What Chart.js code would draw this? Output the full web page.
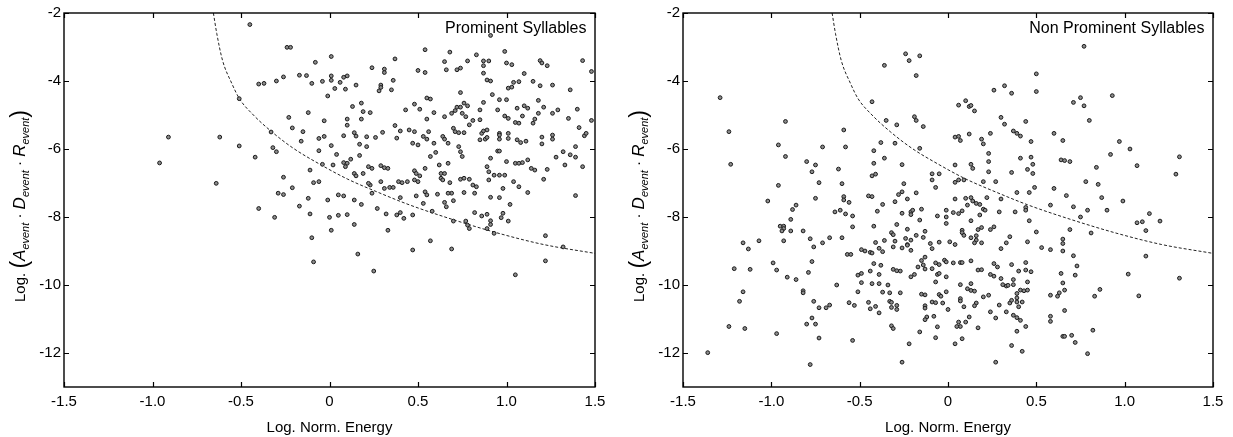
<!DOCTYPE html>
<html>
<head>
<meta charset="utf-8">
<script src="https://cdn.jsdelivr.net/npm/chart.js@4.4.1/dist/chart.umd.min.js"></script>
<style>
  html, body { margin: 0; padding: 0; background: #fff; }
  #wrap { position: relative; width: 1233px; height: 437px; overflow: hidden; }
  canvas { position: absolute; top: 0; }
  #c1 { left: 0; }
  #c2 { left: 617px; }
</style>
</head>
<body>
<div id="wrap">
  <canvas id="c1" width="616" height="437"></canvas>
  <canvas id="c2" width="616" height="437"></canvas>
</div>
<script>
// Axis ticks
const xTicks = [-1.5, -1.0, -0.5, 0, 0.5, 1.0, 1.5];
const yTicks = [-12, -10, -8, -6, -4, -2];

// Panel captions
const panelLabels = ['Prominent Syllables', 'Non Prominent Syllables'];

// Dashed decision boundary (log energy, log A·D·R)
const boundaryX = [-0.656, -0.637, -0.604, -0.553, -0.509, -0.43, -0.327, -0.204, -0.054, 0.1, 0.268, 0.45, 0.7, 0.963, 1.21, 1.5];
const boundaryY = [-2.0, -2.6, -3.4, -4.06, -4.52, -5.0, -5.49, -5.98, -6.45, -6.88, -7.26, -7.64, -8.08, -8.49, -8.81, -9.07];

// Prominent syllables: [log norm. energy, log(A·D·R)]
const prominentXY = [
  [-0.45,-2.34],[-0.24,-3.01],[-0.22,-3.01],[-0.08,-3.45],[-0.40,-4.09],[-0.37,-4.07],[-0.30,-4.00],[-0.26,-3.88],
  [-0.17,-3.83],[-0.13,-3.84],[-0.10,-4.07],[-0.51,-4.52],[-0.23,-5.07],[-0.12,-4.93],[-0.91,-5.65],[-0.62,-5.65],
  [-0.33,-5.50],[-0.21,-5.38],[-0.15,-5.49],[-0.16,-5.77],[-0.06,-5.69],[-0.96,-6.41],[-0.51,-5.91],[-0.32,-5.96],
  [-0.30,-6.08],[-0.06,-6.05],[-0.42,-6.24],[-0.64,-7.01],[-0.26,-6.83],[-0.11,-6.62],[-0.09,-6.99],[-0.06,-6.96],
  [-0.21,-7.14],[-0.29,-7.30],[-0.26,-7.34],[-0.09,-9.32],[-0.40,-7.75],[-0.31,-8.01],[-0.12,-7.45],[-0.17,-7.68],
  [-0.11,-7.91],[-0.10,-8.61],[0.00,-8.01],
  [0.91,-2.66],[0.54,-3.08],[0.68,-3.15],[0.83,-3.23],[0.99,-3.13],[0.01,-3.28],[0.37,-3.35],[0.65,-3.43],[0.78,-3.41],
  [0.87,-3.41],[0.90,-3.41],[1.00,-3.47],[1.03,-3.52],[1.19,-3.40],[1.20,-3.47],[1.23,-3.55],[1.43,-3.40],[0.24,-3.61],
  [0.31,-3.65],[0.31,-3.75],[0.50,-3.69],[0.54,-3.75],[0.66,-3.67],[0.72,-3.67],[0.74,-3.62],[0.87,-3.55],[0.87,-3.77],
  [0.89,-3.97],[0.91,-4.00],[-0.04,-4.01],[0.01,-3.98],[0.01,-3.85],[0.06,-4.04],[0.08,-3.89],[0.10,-3.85],[0.03,-4.22],
  [0.09,-4.24],[0.15,-4.12],[0.29,-4.12],[0.29,-4.19],[0.28,-4.29],[0.35,-4.26],[0.36,-3.98],[0.74,-4.34],[0.92,-4.40],
  [1.01,-4.21],[1.03,-4.18],[1.04,-4.04],[1.07,-4.02],[1.10,-3.78],[1.15,-4.01],[1.19,-4.14],[1.26,-4.12],[1.36,-4.26],
  [1.48,-3.72],[-0.01,-4.44],[0.13,-4.75],[0.18,-4.65],[0.19,-4.90],[0.23,-4.93],[0.43,-4.85],[0.48,-4.68],[0.51,-4.83],
  [0.55,-4.50],[0.57,-4.53],[0.55,-5.12],[0.59,-4.93],[0.65,-5.05],[0.69,-4.95],[0.71,-4.87],[0.72,-4.77],[0.76,-4.65],
  [0.78,-4.73],[0.74,-4.77],[0.75,-4.95],[0.77,-5.05],[0.81,-5.16],[0.85,-5.14],[0.85,-4.85],[0.87,-4.63],[0.95,-4.85],
  [0.96,-4.55],[1.00,-4.55],[0.99,-5.03],[1.01,-5.10],[1.05,-5.22],[1.07,-5.24],[1.06,-4.80],[1.09,-5.03],[1.10,-4.73],
  [1.12,-4.80],[1.16,-5.12],[1.15,-5.24],[1.18,-4.95],[1.18,-4.57],[1.21,-4.77],[1.26,-4.95],[1.29,-4.85],[1.35,-5.10],
  [1.40,-4.83],[1.48,-5.16],[1.41,-5.37],[1.44,-5.61],[1.45,-5.54],[-0.03,-5.17],[0.10,-5.12],[0.10,-5.30],[0.18,-5.12],
  [0.08,-5.61],[0.14,-5.52],[0.15,-5.62],[0.17,-5.86],[0.21,-5.64],[0.26,-5.66],[0.30,-5.51],[0.37,-5.31],[0.38,-5.68],
  [0.40,-5.47],[-0.03,-5.63],[0.45,-5.44],[0.48,-5.49],[0.47,-5.83],[0.50,-5.88],[0.53,-5.63],[0.56,-5.49],[0.55,-5.71],
  [0.59,-5.83],[0.64,-5.63],[0.65,-5.71],[0.67,-5.83],[0.70,-5.39],[0.71,-5.49],[0.73,-5.52],[0.76,-5.52],[0.73,-5.93],
  [0.74,-6.08],[0.75,-6.22],[0.79,-5.29],[0.86,-5.54],[0.87,-5.47],[0.89,-5.44],[0.85,-5.73],[0.88,-5.71],[0.89,-5.66],
  [0.96,-5.54],[0.96,-5.59],[0.96,-5.71],[1.01,-5.54],[1.01,-5.69],[0.95,-6.06],[0.96,-6.06],[0.91,-6.27],[1.06,-5.73],
  [1.08,-5.81],[1.11,-5.77],[1.20,-5.65],[1.20,-5.85],[1.26,-5.59],[1.26,-5.71],[1.32,-6.08],[1.36,-6.17],[1.39,-6.24],
  [1.39,-5.93],[1.43,-6.52],[1.28,-6.24],[1.33,-6.47],[0.21,-5.93],[0.01,-5.90],[0.04,-6.16],[0.08,-6.40],[0.12,-6.30],
  [0.17,-6.19],[0.22,-6.52],[0.24,-6.57],[0.29,-6.49],[0.31,-6.55],[0.33,-6.57],[0.10,-6.42],[0.09,-6.52],[0.02,-6.47],
  [-0.04,-6.45],[0.14,-6.72],[0.15,-6.79],[0.19,-6.72],[0.23,-7.06],[0.24,-7.30],[0.22,-7.01],[0.29,-6.96],[0.31,-7.16],
  [0.34,-7.13],[0.36,-7.13],[0.39,-6.96],[0.41,-6.99],[0.44,-6.96],[0.48,-6.64],[0.49,-6.72],[0.51,-6.79],[0.48,-6.91],
  [0.50,-6.96],[0.54,-6.57],[0.54,-7.26],[0.57,-6.22],[0.60,-6.10],[0.62,-6.47],[0.63,-6.72],[0.65,-6.72],[0.67,-6.42],
  [0.63,-6.86],[0.64,-6.91],[0.68,-6.99],[0.69,-7.30],[0.74,-6.89],[0.76,-6.86],[0.79,-6.89],[0.81,-7.06],[0.83,-7.11],
  [0.89,-6.52],[0.90,-6.67],[0.90,-6.91],[0.93,-6.77],[0.96,-6.77],[0.99,-6.77],[1.04,-6.96],[1.07,-7.11],[1.00,-6.37],
  [1.05,-6.42],[1.07,-6.42],[1.09,-6.40],[1.12,-6.32],[1.14,-6.57],[1.16,-6.62],[1.21,-6.89],[1.23,-6.60],[1.12,-7.28],
  [0.61,-7.33],[0.67,-7.30],[0.76,-7.28],[0.82,-7.30],[0.98,-7.16],
  [-0.01,-7.50],[0.05,-7.35],[0.08,-7.38],[0.14,-7.50],[0.18,-7.63],[0.27,-7.75],[0.40,-7.43],[0.49,-7.38],[0.55,-7.35],
  [0.53,-7.60],[0.65,-7.57],[0.66,-7.70],[0.70,-7.52],[0.91,-7.42],[0.96,-7.43],[1.02,-7.63],[1.39,-7.37],[0.05,-7.95],
  [0.10,-7.93],[0.01,-8.39],[0.14,-8.22],[0.32,-7.91],[0.38,-7.94],[0.40,-7.87],[0.42,-8.04],[0.47,-7.94],[0.33,-8.39],
  [0.58,-7.83],[0.57,-8.70],[0.70,-8.12],[0.77,-8.12],[0.78,-8.24],[0.79,-8.34],[0.82,-7.87],[0.86,-7.97],[0.89,-7.92],
  [0.91,-8.11],[0.91,-8.22],[0.89,-8.34],[0.93,-8.48],[0.97,-8.02],[0.98,-7.89],[1.01,-8.12],[1.22,-8.55],
  [0.16,-9.09],[0.25,-9.59],[0.47,-8.97],[0.69,-8.94],[1.05,-9.70],[1.22,-9.29],[1.32,-8.88]
];

// Non prominent syllables: [log norm. energy, log(A·D·R)]
const nonProminentXY = [
  [-0.24,-3.20],[-0.22,-3.40],[-0.16,-3.26],[-0.36,-3.54],[-0.18,-3.84],[-1.29,-4.49],[-0.43,-4.61],[-0.92,-5.19],
  [-0.35,-5.16],[-0.29,-5.29],[-0.19,-5.05],[-0.18,-5.16],[-0.14,-5.34],[-1.24,-5.49],[-0.59,-5.44],[-0.96,-5.88],
  [-0.71,-5.94],[-0.58,-5.94],[-0.38,-5.81],[-0.30,-5.83],[-0.16,-5.98],[-1.23,-6.45],[-0.92,-6.22],[-0.80,-6.37],
  [-0.75,-6.47],[-0.77,-6.67],[-0.62,-6.59],[-0.42,-6.05],[-0.42,-6.42],[-0.36,-6.27],[-0.26,-6.46],[-0.73,-6.99],
  [-0.96,-7.07],[-0.60,-7.02],[-0.43,-6.79],[-0.41,-6.74],[-0.25,-7.02],[-0.26,-7.26],[-0.28,-7.34],[-0.18,-7.29],
  [-1.02,-7.53],[-0.75,-7.45],[-0.59,-7.40],[-0.59,-7.50],[-0.56,-7.57],[-0.45,-7.38],[-0.43,-7.40],[-0.37,-7.63],
  [-0.30,-7.55],[-0.23,-7.47],[-0.88,-7.78],[-0.86,-7.65],[-0.64,-7.85],[-0.61,-7.80],[-0.58,-7.91],[-0.54,-7.97],
  [-0.40,-7.83],[-0.26,-7.89],[-0.21,-7.85],[-0.21,-7.93],[-0.20,-7.80],[-0.15,-7.77],[-0.06,-7.97],[-0.89,-8.07],
  [-0.16,-8.09],[-0.95,-8.27],[-0.93,-8.27],[-0.93,-8.34],[-0.94,-8.41],[-0.89,-8.41],[-0.82,-8.41],[-0.54,-8.29],
  [-0.42,-8.27],[-0.29,-8.22],[-0.23,-8.36],[-0.32,-8.46],[-0.31,-8.52],[-0.18,-8.54],[-0.13,-8.42],[-0.14,-8.60],
  [-1.16,-8.76],[-1.07,-8.70],[-0.93,-8.70],[-0.78,-8.64],[-0.67,-8.61],[-0.60,-8.61],[-0.71,-8.76],[-0.41,-8.75],
  [-0.36,-8.69],[-0.30,-8.71],[-0.24,-8.63],[-0.21,-8.68],[-0.10,-8.78],[-0.05,-8.74],[-0.23,-8.81],
  [0.04,-7.47],[0.10,-7.45],[0.13,-7.43],[0.14,-7.53],[0.22,-7.43],[0.30,-7.47],[0.67,-7.37],[0.87,-7.43],[0.99,-7.53],
  [0.16,-7.60],[0.18,-7.63],[0.20,-7.77],[0.21,-7.80],[0.11,-7.65],[-0.01,-7.80],[0.03,-7.87],[0.06,-7.90],[0.08,-7.82],
  [-0.01,-8.00],[-0.01,-8.19],[0.13,-8.11],[0.18,-7.94],[0.29,-7.85],[0.38,-7.85],[0.44,-7.72],[0.44,-7.80],[0.46,-8.11],
  [0.58,-7.65],[0.71,-7.70],[0.79,-7.80],[0.90,-7.80],[0.75,-8.00],[0.69,-8.37],[0.81,-8.47],[0.50,-8.44],[1.07,-8.17],
  [1.10,-8.14],[1.20,-8.12],[1.14,-7.90],[1.12,-8.40],[0.08,-8.39],[0.08,-8.46],[0.09,-8.54],[0.17,-8.37],[0.19,-8.31],
  [0.24,-8.37],[0.26,-8.29],[0.13,-8.61],[0.16,-8.55],[0.16,-8.68],[0.15,-8.76],[0.19,-8.76],[0.35,-8.58],[0.33,-8.76],
  [0.45,-8.73],[0.65,-8.65],[0.65,-8.78],[0.01,-8.73],[0.04,-8.81],
  [0.77,-2.98],[0.50,-3.79],[0.26,-4.27],[0.32,-4.14],[0.36,-4.36],[0.50,-4.31],[0.71,-4.63],[0.75,-4.49],[0.77,-4.73],
  [0.93,-4.43],[0.06,-4.71],[0.10,-4.58],[0.12,-4.75],[0.13,-4.72],[0.15,-4.88],[0.30,-5.07],[0.32,-5.27],[0.44,-5.19],
  [0.80,-5.16],[0.04,-5.65],[0.06,-5.63],[0.07,-5.75],[0.12,-5.56],[0.19,-5.71],[0.20,-5.85],[0.24,-5.54],[0.37,-5.47],
  [0.39,-5.54],[0.41,-5.62],[0.47,-5.78],[0.60,-5.54],[0.65,-5.75],[0.97,-5.78],[1.03,-6.00],[0.92,-6.16],[1.07,-6.49],
  [1.31,-6.23],[1.29,-6.74],[0.23,-6.13],[0.23,-6.37],[0.41,-6.27],[0.47,-6.24],[0.48,-6.45],[0.45,-6.60],[0.48,-6.72],
  [0.64,-6.32],[0.66,-6.34],[0.69,-6.37],[0.04,-6.47],[0.13,-6.45],[0.14,-6.57],[0.36,-6.69],[0.23,-6.67],[-0.09,-6.91],
  [-0.05,-6.73],[-0.09,-6.73],[-0.07,-7.13],[0.04,-6.98],[0.06,-6.91],[0.09,-6.91],[0.27,-6.96],[0.20,-6.96],[0.49,-7.13],
  [0.60,-7.16],[0.78,-6.96],[0.85,-7.04],[0.84,-6.54],[0.39,-7.28],[0.46,-7.28],
  [-1.13,-8.94],[-1.21,-9.52],[-1.12,-9.54],[-0.99,-9.35],[-0.97,-9.56],[-0.91,-9.77],[-0.86,-9.84],[-0.76,-8.88],
  [-0.77,-9.31],[-0.79,-9.63],[-0.57,-9.10],[-0.55,-9.10],[-0.49,-8.96],[-0.47,-9.00],[-0.44,-9.04],[-0.43,-9.06],
  [-0.39,-8.92],[-0.37,-9.02],[-0.31,-8.88],[-0.26,-8.91],[-0.23,-8.83],[-0.21,-8.98],[-0.51,-9.71],[-0.49,-9.66],
  [-0.49,-9.93],[-0.44,-9.59],[-0.43,-9.96],[-0.39,-9.96],[-0.34,-10.00],[-0.42,-9.37],[-0.38,-9.42],[-0.39,-9.69],
  [-0.31,-9.54],[-0.29,-9.58],[-0.27,-9.59],[-0.21,-9.76],[-0.19,-9.69],[-0.17,-9.47],[-0.14,-9.41],[-0.13,-9.53],
  [-0.15,-9.28],[-0.13,-9.18],[-0.63,-10.00],[-0.82,-10.17],[-0.82,-10.23],[-0.76,-10.48],[-0.67,-10.59],[-0.69,-10.67],
  [-0.56,-10.52],[-0.53,-10.60],[-0.51,-10.20],[-0.45,-10.51],[-0.44,-10.70],[-0.41,-10.63],[-0.39,-10.82],[-0.37,-10.21],
  [-0.33,-10.23],[-0.33,-10.48],[-0.32,-10.51],[-0.27,-10.23],[-0.32,-10.66],[-0.29,-10.72],[-0.29,-10.60],[-0.15,-10.27],
  [-0.13,-10.29],[-0.13,-10.61],[-0.13,-10.68],[-0.12,-10.94],[-0.13,-11.02],[-0.16,-11.38],[-0.22,-11.73],[-0.26,-12.27],
  [-0.32,-11.20],[-0.31,-11.28],[-0.54,-11.63],[-0.73,-10.67],[-0.80,-11.15],[-0.75,-11.15],[-0.77,-10.97],[-0.73,-11.56],
  [-0.78,-12.34],[-0.97,-11.43],[-1.15,-11.28],[-1.24,-11.22],[-1.18,-10.48],[-1.16,-10.20],[-1.36,-11.99],
  [-0.09,-8.93],[0.30,-8.93],[0.53,-8.90],[0.58,-8.96],[0.65,-9.00],[0.71,-9.14],[0.73,-9.44],[1.12,-9.15],[1.02,-9.68],
  [1.08,-10.32],[1.31,-9.80],[0.86,-10.13],[0.83,-10.33],[0.82,-11.33],[0.79,-12.02],[0.70,-11.48],[0.65,-11.51],
  [0.66,-11.51],[0.72,-11.69],[0.64,-9.66],[0.72,-9.71],[0.65,-9.94],[0.66,-10.15],[0.63,-10.23],[0.62,-10.33],
  [0.58,-10.92],[0.58,-11.07],[0.58,-10.30],[0.66,-10.75],[-0.09,-9.52],[-0.07,-9.35],[-0.05,-9.40],[-0.07,-9.91],
  [-0.02,-9.27],[-0.01,-9.32],[0.03,-9.35],[0.07,-9.34],[0.08,-9.34],[0.13,-9.29],[0.17,-9.56],[0.19,-9.55],[0.26,-9.37],
  [0.28,-9.47],[0.36,-9.40],[0.44,-9.34],[-0.06,-9.69],[-0.05,-9.66],[-0.01,-9.76],[0.07,-9.99],[0.11,-10.11],[0.13,-10.16],
  [0.15,-10.18],[0.13,-9.96],[0.24,-9.69],[0.26,-9.74],[0.30,-9.81],[0.31,-9.99],[0.33,-10.03],[0.34,-10.01],[0.37,-9.84],
  [0.37,-9.99],[0.40,-9.59],[0.44,-9.56],[0.47,-9.61],[0.45,-9.91],[0.41,-10.15],[0.39,-10.25],[0.43,-10.17],[0.45,-10.15],
  [-0.05,-10.28],[-0.04,-10.33],[-0.01,-10.20],[-0.09,-10.50],[-0.07,-10.52],[-0.03,-10.53],[0.00,-10.72],[0.07,-10.40],
  [0.07,-10.47],[0.09,-10.64],[0.16,-10.53],[0.15,-10.61],[0.20,-10.35],[0.23,-10.30],[0.24,-10.79],[0.29,-10.59],
  [0.33,-10.79],[0.35,-10.53],[0.27,-10.97],[0.37,-10.89],[0.39,-10.96],[0.41,-11.04],[0.40,-10.64],[0.39,-10.38],
  [0.39,-10.50],[0.42,-10.50],[0.36,-10.45],[-0.08,-10.92],[-0.06,-11.23],[0.06,-11.09],[0.07,-11.22],[0.05,-11.22],
  [0.10,-11.09],[0.12,-10.94],[0.17,-11.26],[-0.07,-11.55],[0.08,-11.58],[0.04,-11.73],[0.44,-11.22],[0.39,-11.36],
  [0.36,-11.78],[0.42,-11.95],[0.27,-12.27]
];

const FONT = '"Liberation Sans", Arial, Helvetica, sans-serif';

// Draws the closed frame, inward tick marks, axis titles and the panel caption
const framePlugin = {
  id: 'frameAndTitles',
  afterDatasetsDraw(chart) {
    const { ctx, chartArea: a, scales: { x, y } } = chart;
    const label = chart.options.plugins.frameAndTitles.label;
    ctx.save();
    ctx.strokeStyle = '#000';
    ctx.lineWidth = 1.4;
    ctx.strokeRect(a.left, a.top, a.right - a.left, a.bottom - a.top);

    ctx.lineWidth = 1.2;
    ctx.beginPath();
    xTicks.forEach(v => {
      const px = Math.round(x.getPixelForValue(v)) + 0.5;
      ctx.moveTo(px, a.bottom); ctx.lineTo(px, a.bottom - 5);
      ctx.moveTo(px, a.top); ctx.lineTo(px, a.top + 5);
    });
    yTicks.forEach(v => {
      const py = Math.round(y.getPixelForValue(v)) + 0.5;
      ctx.moveTo(a.left, py); ctx.lineTo(a.left + 5, py);
      ctx.moveTo(a.right, py); ctx.lineTo(a.right - 5, py);
    });
    ctx.stroke();

    // panel caption
    ctx.fillStyle = '#000';
    ctx.font = `16px ${FONT}`;
    ctx.textAlign = 'right';
    ctx.textBaseline = 'alphabetic';
    ctx.fillText(label, a.right - 8.5, a.top + 20);

    // x axis title
    ctx.textAlign = 'center';
    ctx.font = `15px ${FONT}`;
    ctx.fillText('Log. Norm. Energy', (a.left + a.right) / 2, 432);

    // y axis title, rotated, with subscripts
    const parts = [
      { t: 'Log. ', f: `15px ${FONT}`, dy: 0 },
      { t: '(', f: `23px ${FONT}`, dy: 1.5 },
      { t: 'A', f: `italic 17px ${FONT}`, dy: 0 },
      { t: 'event', f: `italic 11px ${FONT}`, dy: 4 },
      { t: ' \u00B7 ', f: `15px ${FONT}`, dy: -1 },
      { t: 'D', f: `italic 17px ${FONT}`, dy: 0 },
      { t: 'event', f: `italic 11px ${FONT}`, dy: 4 },
      { t: ' \u00B7 ', f: `15px ${FONT}`, dy: -1 },
      { t: 'R', f: `italic 17px ${FONT}`, dy: 0 },
      { t: 'event', f: `italic 11px ${FONT}`, dy: 4 },
      { t: ')', f: `23px ${FONT}`, dy: 1.5 }
    ];
    let total = 0;
    parts.forEach(p => { ctx.font = p.f; p.w = ctx.measureText(p.t).width; total += p.w; });
    ctx.translate(a.left - 39, (a.top + a.bottom) / 2 + 6);
    ctx.rotate(-Math.PI / 2);
    ctx.textAlign = 'left';
    let cx = -total / 2;
    parts.forEach(p => { ctx.font = p.f; ctx.fillText(p.t, cx, p.dy); cx += p.w; });
    ctx.restore();
  }
};

function makePanel(canvasId, pairs, label, yAxisWidth, padRight) {
  const points = pairs.map(([x, y]) => ({ x, y }));
  const curve = boundaryX.map((x, i) => ({ x, y: boundaryY[i] }));
  return new Chart(document.getElementById(canvasId), {
    type: 'scatter',
    data: {
      datasets: [
        {
          data: points,
          pointRadius: 1.9,
          pointHoverRadius: 1.9,
          pointBorderWidth: 1,
          borderColor: '#1a1a1a',
          backgroundColor: '#8c8c8c'
        },
        {
          type: 'line',
          data: curve,
          showLine: true,
          borderColor: '#222',
          borderWidth: 1,
          borderDash: [3, 2],
          pointRadius: 0,
          fill: false,
          cubicInterpolationMode: 'monotone'
        }
      ]
    },
    options: {
      responsive: false,
      animation: false,
      events: [],
      layout: { padding: { top: 13, right: padRight, bottom: 0, left: 0 } },
      plugins: {
        legend: { display: false },
        tooltip: { enabled: false },
        frameAndTitles: { label }
      },
      scales: {
        x: {
          type: 'linear', min: -1.5, max: 1.5,
          grid: { display: false, drawTicks: false },
          border: { display: false },
          afterBuildTicks: s => { s.ticks = xTicks.map(v => ({ value: v })); },
          afterFit: s => { s.height = 50; },
          ticks: {
            padding: 6, color: '#000', autoSkip: false, maxRotation: 0,
            font: { family: FONT, size: 15 },
            callback: v => (v === 0 ? '0' : v.toFixed(1))
          }
        },
        y: {
          type: 'linear', min: -13, max: -2,
          grid: { display: false, drawTicks: false },
          border: { display: false },
          afterBuildTicks: s => { s.ticks = yTicks.map(v => ({ value: v })); },
          afterFit: s => { s.width = yAxisWidth; },
          ticks: {
            padding: 3, color: '#000', autoSkip: false,
            font: { family: FONT, size: 15 },
            callback: v => String(v)
          }
        }
      }
    },
    plugins: [framePlugin]
  });
}

makePanel('c1', prominentXY, panelLabels[0], 64, 21);
makePanel('c2', nonProminentXY, panelLabels[1], 66, 20);
</script>
</body>
</html>
